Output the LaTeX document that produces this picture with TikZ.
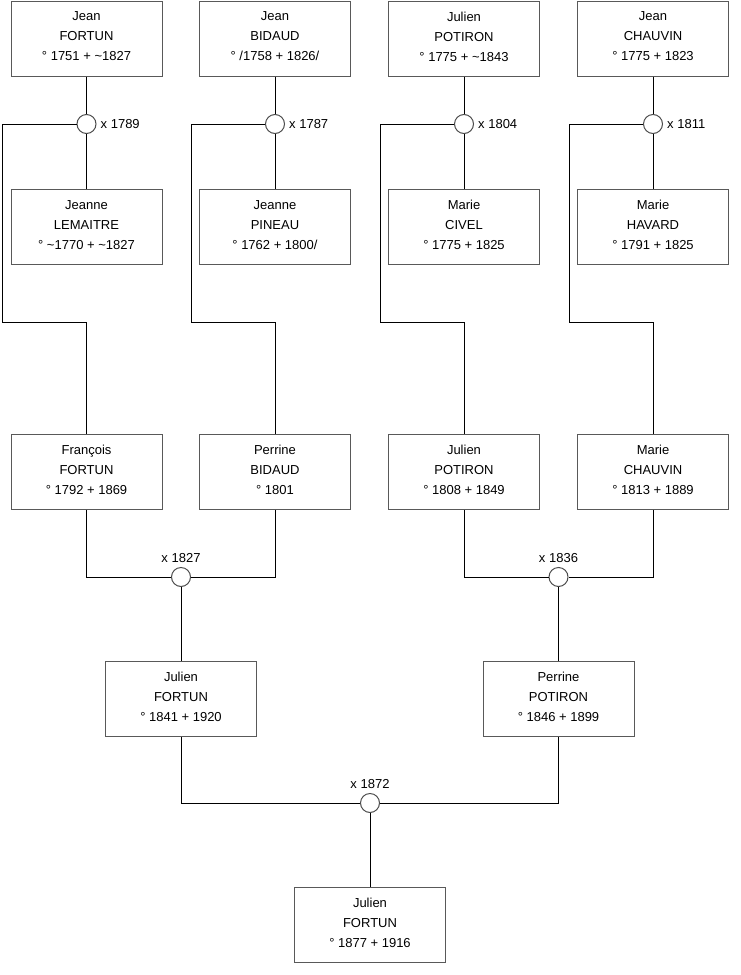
\documentclass[tikz,border=0pt]{standalone}
\usepackage{fontspec}
\setmainfont{Liberation Sans}
\begin{document}
\begin{tikzpicture}[x=1pt,y=-1pt,
  person/.style={draw=black!65, line width=1pt, rectangle, minimum width=151pt, minimum height=75pt, align=center, font=\fontsize{13}{20}\selectfont, inner sep=0pt, text depth=4pt, fill=white},
  union/.style={draw=black!70, line width=1pt, circle, minimum size=19pt, inner sep=0pt, fill=white},
  lbl/.style={font=\fontsize{13}{15}\selectfont, inner sep=0pt},
  link/.style={draw=black, line width=1pt}]
\fill[white] (0,0) rectangle (740,975);
\useasboundingbox (0,0) rectangle (740,975);
\coordinate (b1) at (2,322);
\coordinate (b2) at (191,322);
\coordinate (b3) at (380,322);
\coordinate (b4) at (569,322);
% top row
\node[person] (p1) at (86.5,38.5) {Jean\\FORTUN\\° 1751 + \textasciitilde1827};
\node[person] (p2) at (275,38.5) {Jean\\BIDAUD\\° /1758 + 1826/};
\node[person] (p3) at (464,38.5) {Julien\\POTIRON\\° 1775 + \textasciitilde1843};
\node[person] (p4) at (653,38.5) {Jean\\CHAUVIN\\° 1775 + 1823};
% second row
\node[person] (w1) at (86.5,227) {Jeanne\\LEMAITRE\\° \textasciitilde1770 + \textasciitilde1827};
\node[person] (w2) at (275,227) {Jeanne\\PINEAU\\° 1762 + 1800/};
\node[person] (w3) at (464,227) {Marie\\CIVEL\\° 1775 + 1825};
\node[person] (w4) at (653,227) {Marie\\HAVARD\\° 1791 + 1825};
% unions top
\node[union] (u1) at (86.5,124) {};
\node[union] (u2) at (275,124) {};
\node[union] (u3) at (464,124) {};
\node[union] (u4) at (653,124) {};
\node[lbl, anchor=west] (l1) at ([xshift=4pt]u1.east) {x 1789};
\node[lbl, anchor=west] (l2) at ([xshift=4pt]u2.east) {x 1787};
\node[lbl, anchor=west] (l3) at ([xshift=4pt]u3.east) {x 1804};
\node[lbl, anchor=west] (l4) at ([xshift=4pt]u4.east) {x 1811};
% third row
\node[person] (c1) at (86.5,472) {François\\FORTUN\\° 1792 + 1869};
\node[person] (c2) at (275,472) {Perrine\\BIDAUD\\° 1801};
\node[person] (c3) at (464,472) {Julien\\POTIRON\\° 1808 + 1849};
\node[person] (c4) at (653,472) {Marie\\CHAUVIN\\° 1813 + 1889};
% unions mid
\node[union] (m1) at (181,577) {};
\node[union] (m2) at (558.5,577) {};
\node[lbl, anchor=base] (lm1) at (181,562) {x 1827};
\node[lbl, anchor=base] (lm2) at (558.5,562) {x 1836};
% fourth row
\node[person] (g1) at (181,699) {Julien\\FORTUN\\° 1841 + 1920};
\node[person] (g2) at (558.5,699) {Perrine\\POTIRON\\° 1846 + 1899};
\node[union] (f1) at (370,803) {};
\node[lbl, anchor=base] (lf1) at (370,788) {x 1872};
\node[person] (z1) at (370,925) {Julien\\FORTUN\\° 1877 + 1916};
% links
\foreach \i in {1,2,3,4}{
  \draw[link] (p\i.south) -- (u\i.north);
  \draw[link] (u\i.south) -- (w\i.north);
  \draw[link] (u\i.west) -| (b\i) -- (b\i -| c\i) -- (c\i.north);
}
\draw[link] (c1.south) |- (m1.west);
\draw[link] (c2.south) |- (m1.east);
\draw[link] (c3.south) |- (m2.west);
\draw[link] (c4.south) |- (m2.east);
\draw[link] (m1.south) -- (g1.north);
\draw[link] (m2.south) -- (g2.north);
\draw[link] (g1.south) |- (f1.west);
\draw[link] (g2.south) |- (f1.east);
\draw[link] (f1.south) -- (z1.north);
\end{tikzpicture}
\end{document}
